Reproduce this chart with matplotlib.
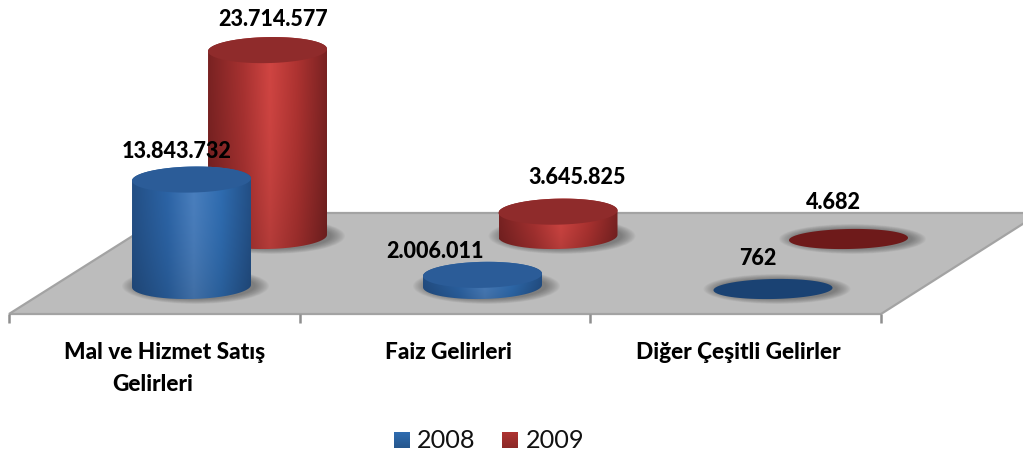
# plot.py - silindir grafik, 2008 / 2009 gelirleri
import numpy as np
import matplotlib
matplotlib.use("Agg")
import matplotlib.pyplot as plt
from matplotlib.patches import Ellipse, PathPatch, Polygon
from matplotlib.path import Path

plt.rcParams["font.family"] = ["Lato", "DejaVu Sans"]

categories = ["Mal ve Hizmet Satış\nGelirleri", "Faiz Gelirleri", "Diğer Çeşitli Gelirler"]
series_names = ["2008", "2009"]
values_2008 = [13843732, 2006011, 762]
values_2009 = [23714577, 3645825, 4682]
labels_2008 = ["13.843.732", "2.006.011", "762"]
labels_2009 = ["23.714.577", "3.645.825", "4.682"]

# yerlesim (piksel)
W, H = 1023, 452
PX_PER_UNIT = 8.05 / 1e6
PERSPECTIVE_OFFSET = 5
RX = 59.5
TILT = 0.02
cx_2008 = [191.5, 482.5, 773]
cx_2009 = [267.5, 558, 848.5]
base_2008 = [285, 285, 288]
base_2009 = [235, 235, 238]
ry_by_cat = [13, 13, 10]
label_xy_2008 = [(177, 150), (435, 250), (758, 257)]
label_xy_2009 = [(273, 17), (577, 176), (833, 201)]
cat_x = [165, 448, 738]
cat_x_line2 = 153
tick_x = [9, 300, 590, 881]
FLOOR = [(9, 313), (881, 313), (1040, 212), (169, 212)]

BLUE = {
    "stops": ["#234f85", "#2c64a6", "#4a7fbe", "#2f6cb0", "#234f85"],
    "top": "#2b5c98",
    "flat": "#1a4273",
}
RED = {
    "stops": ["#792222", "#a83231", "#d04542", "#ae3331", "#792222"],
    "top": "#8f2b2b",
    "flat": "#6e1a1a",
}
STOP_POS = [0, 0.3, 0.52, 0.75, 1]


def hex_rgb(c):
    return np.array(matplotlib.colors.to_rgb(c))


def body_image(stops, nrow=120, ncol=256):
    """Yatay gradyan, alta dogru biraz koyulasir."""
    t = np.linspace(0, 1, ncol)
    rgb = np.array([hex_rgb(c) for c in stops])
    row = np.stack([np.interp(t, STOP_POS, rgb[:, i]) for i in range(3)], axis=1)
    shade = 1 - 0.14 * np.linspace(0, 1, nrow) ** 2
    return row[None, :, :] * shade[:, None, None]


def ellipse_xy(cx, cy, ry, t):
    x = cx + RX * np.cos(t)
    y = cy + ry * np.sin(t) - TILT * (x - cx)
    return x, y


def draw_shadow(ax, cx, cy, ry):
    for i in range(14):
        k = i / 13
        ax.add_patch(Ellipse((cx + 4, cy), 2 * (RX + 14 - 14 * k), 2 * (ry + 5 - 5 * k),
                             fc="#404040", ec="none", alpha=0.045, zorder=2))


def draw_cylinder(ax, cx, base, ry, value, style, z):
    h = max(0, value * PX_PER_UNIT - PERSPECTIVE_OFFSET)
    draw_shadow(ax, cx, base, ry)
    t = np.linspace(0, 2 * np.pi, 200)
    if h == 0:
        x, y = ellipse_xy(cx, base, ry, t)
        ax.add_patch(Polygon(np.column_stack([x, y]), fc=style["flat"], ec="none", zorder=z))
        return
    top = base - h
    # gövde: alt yarim elips + üst yarim elips kenari
    tb = np.linspace(0, np.pi, 100)
    xb, yb = ellipse_xy(cx, base, ry, tb)
    tt = np.linspace(np.pi, 2 * np.pi, 100)
    xt, yt = ellipse_xy(cx, top, ry, tt)
    verts = np.column_stack([np.r_[xb, xt, xb[0]], np.r_[yb, yt, yb[0]]])
    clip = PathPatch(Path(verts), fc="none", ec="none", transform=ax.transData)
    ax.add_patch(clip)
    im = ax.imshow(body_image(style["stops"]), extent=(cx - RX, cx + RX, base + ry + 2, top - ry - 2),
                   aspect="auto", origin="upper", zorder=z, interpolation="bilinear")
    im.set_clip_path(clip)
    x, y = ellipse_xy(cx, top, ry, t)
    ax.add_patch(Polygon(np.column_stack([x, y]), fc=style["top"], ec="none", zorder=z + 0.1))


fig = plt.figure(figsize=(W / 100, H / 100), dpi=100)
ax = fig.add_axes([0, 0, 1, 1])

# zemin
ax.add_patch(Polygon(FLOOR, closed=True, fc="#bcbcbc", ec="#a3a3a3", lw=1.6, zorder=1))
for x in tick_x:
    ax.plot([x, x], [313, 322], color="#8f8f8f", lw=1.8, zorder=1, solid_capstyle="butt")

# once 2009 (arkada), sonra 2008
for i in range(len(categories)):
    draw_cylinder(ax, cx_2009[i], base_2009[i], ry_by_cat[i], values_2009[i], RED, 3 + i)
for i in range(len(categories)):
    draw_cylinder(ax, cx_2008[i], base_2008[i], ry_by_cat[i], values_2008[i], BLUE, 7 + i)

for lab, (x, y) in zip(labels_2008 + labels_2009, label_xy_2008 + label_xy_2009):
    ax.text(x, y, lab, ha="center", va="center", fontsize=15.5, fontweight=900, color="black", zorder=20)

for name, x in zip(categories, cat_x):
    lines = name.split("\n")
    ax.text(x, 351, lines[0], ha="center", va="center", fontsize=16.3, fontweight=900, zorder=20)
    if len(lines) > 1:
        ax.text(cat_x_line2, 383, lines[1], ha="center", va="center", fontsize=16.3, fontweight=900, zorder=20)

# lejant
for name, style, sq_x, tx in zip(series_names, [BLUE, RED], [394, 502], [417, 526]):
    shade = np.linspace(1, 0.8, 32)[:, None, None]
    ax.imshow(hex_rgb(style["stops"][3])[None, None, :] * shade, extent=(sq_x, sq_x + 16, 447, 431),
              aspect="auto", origin="upper", zorder=5)
    ax.text(tx, 439, name, ha="left", va="center", fontsize=18.2, color="#111111", zorder=20)

ax.set_xlim(0, W)
ax.set_ylim(H - 2, -2)
ax.axis("off")
fig.savefig("out.png", dpi=100, facecolor="white")
plt.close(fig)
